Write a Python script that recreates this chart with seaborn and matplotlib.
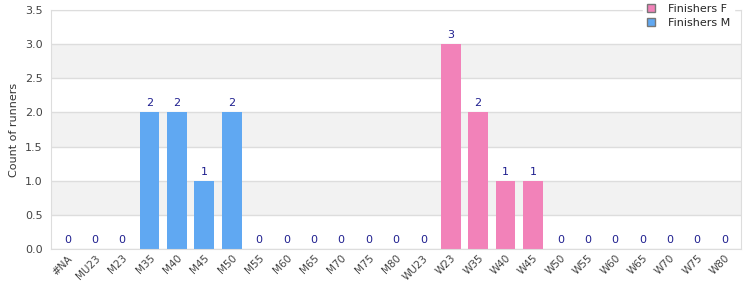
import matplotlib
matplotlib.use('Agg')
import matplotlib.pyplot as plt
import pandas as pd
import seaborn as sns
from matplotlib.patches import Patch

categories = ['#NA', 'MU23', 'M23', 'M35', 'M40', 'M45', 'M50', 'M55', 'M60', 'M65',
              'M70', 'M75', 'M80', 'WU23', 'W23', 'W35', 'W40', 'W45', 'W50', 'W55',
              'W60', 'W65', 'W70', 'W75', 'W80']
counts = [0, 0, 0, 2, 2, 1, 2, 0, 0, 0,
          0, 0, 0, 0, 3, 2, 1, 1, 0, 0,
          0, 0, 0, 0, 0]
series = ['Finishers M'] * 13 + ['Finishers F'] * 12

colors = {'Finishers F': '#f282b9', 'Finishers M': '#60a8f2'}

df = pd.DataFrame({'category': categories, 'count': counts, 'series': series})

sns.set_style('white')
plt.rcParams['font.family'] = ['DejaVu Sans']

fig = plt.figure(figsize=(7.5, 3), dpi=100)
ax = fig.add_axes([0.068, 0.17, 0.92, 0.797])

# alternating bands
for lo in [0.5, 1.5, 2.5]:
    ax.axhspan(lo, lo + 0.5, color='#f2f2f2', zorder=0, lw=0)

sns.barplot(data=df, x='category', y='count', hue='series', palette=colors,
            dodge=False, width=0.72, saturation=1, linewidth=0, edgecolor='none',
            ax=ax, legend=False, zorder=2)

for i, v in enumerate(counts):
    ax.annotate(str(v), (i, v), xytext=(0, 3), textcoords='offset points',
                ha='center', va='bottom', fontsize=8, color='#1f1f8f')

ax.set_ylim(0, 3.5)
ax.set_xlim(-0.6, len(categories) - 0.4)
ax.set_yticks([0, 0.5, 1, 1.5, 2, 2.5, 3, 3.5])
ax.set_yticklabels(['0.0', '0.5', '1.0', '1.5', '2.0', '2.5', '3.0', '3.5'])
ax.yaxis.grid(True, color='#dddddd', lw=1, zorder=1)
ax.set_axisbelow(True)
ax.set_xlabel('')
ax.set_ylabel('Count of runners', fontsize=8, color='#333333')
ax.tick_params(axis='y', labelsize=8, labelcolor='#444444', length=0, pad=6)
ax.tick_params(axis='x', labelsize=7.5, labelcolor='#444444', length=0, pad=3)
plt.setp(ax.get_xticklabels(), rotation=45, ha='right', rotation_mode='anchor')
for s in ax.spines.values():
    s.set_color('#dddddd')

handles = [Patch(facecolor=colors[k], edgecolor='#777777', lw=1) for k in ['Finishers F', 'Finishers M']]
leg = ax.legend(handles, ['Finishers F', 'Finishers M'], loc='upper right',
                bbox_to_anchor=(0.99, 1.042), borderaxespad=0, frameon=True, fontsize=8,
                handlelength=0.7, handleheight=0.7, borderpad=0.35, labelspacing=0.4,
                handletextpad=1.2, fancybox=False)
leg.get_frame().set_facecolor('white')
leg.get_frame().set_edgecolor('white')
leg.get_frame().set_alpha(1)
leg.set_zorder(5)

fig.savefig('out.png', dpi=100)
